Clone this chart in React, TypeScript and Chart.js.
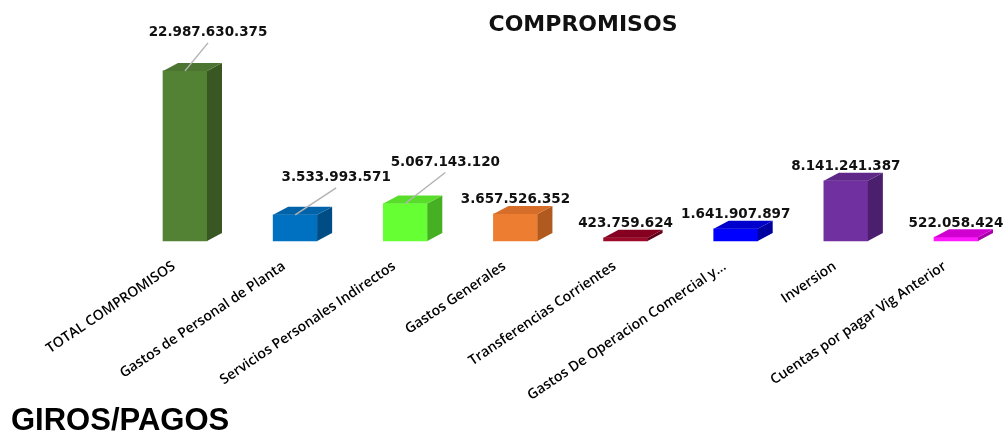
import React, { useEffect, useRef } from 'react';
import { Chart, registerables } from 'chart.js';

Chart.register(...registerables);

// ---- data ----
const categories = [
  'TOTAL COMPROMISOS',
  'Gastos de Personal de Planta',
  'Servicios Personales Indirectos',
  'Gastos Generales',
  'Transferencias Corrientes',
  'Gastos De Operacion Comercial y...',
  'Inversion',
  'Cuentas por pagar Vig Anterior',
];
const compromisos = [
  22987630375, 3533993571, 5067143120, 3657526352, 423759624, 1641907897, 8141241387, 522058424,
];
const chartTitle = 'COMPROMISOS';
const sectionTitle = 'GIROS/PAGOS';

// ---- styles ----
const frontColors = ['#548235', '#0070C0', '#66FF33', '#ED7D31', '#9C0A2A', '#0000FF', '#7030A0', '#FF1AFF'];
const sideColors = ['#385723', '#004d85', '#45b022', '#b05a1f', '#600018', '#0000a0', '#4b1f6e', '#a800a8'];
const topColors = ['#4b7530', '#0063aa', '#58dd2b', '#d66d28', '#850020', '#0000cc', '#5f2888', '#d000d0'];
// label offsets (px) from the bar's front-top centre; leader line drawn when set
const labelLeaders: (number[] | null)[] = [[23, -38], [41, -37], [40, -41], null, null, null, null, null];
const DEPTH_X = 15;
const DEPTH_Y = 8;
const LABEL_SHIFT = 0.1; // category units the axis labels sit left of the bars

const fmt = (v: number) => String(Math.round(v)).replace(/\B(?=(\d{3})+(?!\d))/g, '.');

const bar3dPlugin = {
  id: 'bar3d',
  afterDatasetsDraw(chart: any) {
    const ctx = chart.ctx;
    const meta = chart.getDatasetMeta(0);
    meta.data.forEach((el: any, i: number) => {
      const { x, y, base, width } = el.getProps(['x', 'y', 'base', 'width'], true);
      const l = x - width / 2;
      const r = x + width / 2;
      ctx.save();
      ctx.fillStyle = sideColors[i];
      ctx.beginPath();
      ctx.moveTo(r, y);
      ctx.lineTo(r + DEPTH_X, y - DEPTH_Y);
      ctx.lineTo(r + DEPTH_X, base - DEPTH_Y);
      ctx.lineTo(r, base);
      ctx.closePath();
      ctx.fill();
      ctx.fillStyle = topColors[i];
      ctx.beginPath();
      ctx.moveTo(l, y);
      ctx.lineTo(l + DEPTH_X, y - DEPTH_Y);
      ctx.lineTo(r + DEPTH_X, y - DEPTH_Y);
      ctx.lineTo(r, y);
      ctx.closePath();
      ctx.fill();
      ctx.restore();
    });
  },
};

const valueLabelPlugin = {
  id: 'valueLabels',
  afterDraw(chart: any) {
    const ctx = chart.ctx;
    const meta = chart.getDatasetMeta(0);
    ctx.save();
    ctx.font = 'bold 13.5px "DejaVu Sans"';
    ctx.textAlign = 'center';
    ctx.textBaseline = 'middle';
    meta.data.forEach((el: any, i: number) => {
      const { x, y } = el.getProps(['x', 'y'], true);
      const off = labelLeaders[i];
      let lx = x;
      let ly = y - 14;
      if (off) {
        lx = x + off[0];
        ly = y + off[1];
        ctx.strokeStyle = '#b3b3b3';
        ctx.lineWidth = 1.5;
        ctx.beginPath();
        ctx.moveTo(lx, ly + 10);
        ctx.lineTo(x, y);
        ctx.stroke();
      }
      ctx.fillStyle = '#111';
      ctx.fillText(fmt(compromisos[i]), lx, ly);
    });
    // chart title
    ctx.font = 'bold 22px "DejaVu Sans"';
    ctx.textBaseline = 'alphabetic';
    ctx.fillStyle = '#111';
    ctx.fillText(chartTitle, 583, 31);
    ctx.restore();
  },
};

export default function App() {
  const canvasRef = useRef<HTMLCanvasElement | null>(null);

  useEffect(() => {
    if (!canvasRef.current) return;
    const chart = new Chart(canvasRef.current, {
      type: 'bar',
      data: {
        labels: categories,
        datasets: [
          {
            data: compromisos,
            backgroundColor: frontColors,
            borderWidth: 0,
            barThickness: 44,
            clip: false as any,
            xAxisID: 'x',
          },
        ],
      },
      options: {
        responsive: false,
        animation: false,
        devicePixelRatio: 1,
        layout: { padding: { left: 185, right: 51, top: 56, bottom: 0 } },
        plugins: {
          legend: { display: false },
          tooltip: { enabled: false },
          title: { display: false },
        },
        scales: {
          x: {
            type: 'category',
            offset: false,
            display: false,
          },
          xl: {
            type: 'linear',
            position: 'bottom',
            offset: false,
            min: LABEL_SHIFT,
            max: categories.length - 1 + LABEL_SHIFT,
            grid: { display: false, offset: false },
            border: { display: false },
            afterBuildTicks(scale: any) {
              scale.ticks = categories.map((_, i) => ({ value: i }));
            },
            ticks: {
              autoSkip: false,
              minRotation: 34,
              maxRotation: 34,
              padding: 9,
              color: '#000',
              font: { family: '"Open Sans"', size: 14, weight: '600' },
              callback: (v: any) => categories[Math.round(Number(v))] ?? '',
            },
            afterFit(scale: any) {
              scale.height = 191;
            },
          } as any,
          y: { display: false, min: 0, max: 25000000000 },
        },
      },
      plugins: [bar3dPlugin, valueLabelPlugin],
    });
    return () => chart.destroy();
  }, []);

  return (
    <div style={{ position: 'absolute', left: 0, top: 0, width: 1007, height: 432, overflow: 'hidden', background: '#fff' }}>
      <canvas ref={canvasRef} width={1007} height={432} style={{ display: 'block', width: 1007, height: 432 }} />
      <div
        style={{
          position: 'absolute',
          left: 11,
          top: 404,
          fontFamily: '"Liberation Sans", Arial, sans-serif',
          fontWeight: 'bold',
          fontSize: 31,
          lineHeight: '31px',
          color: '#000',
          whiteSpace: 'nowrap',
        }}
      >
        {sectionTitle}
      </div>
    </div>
  );
}
